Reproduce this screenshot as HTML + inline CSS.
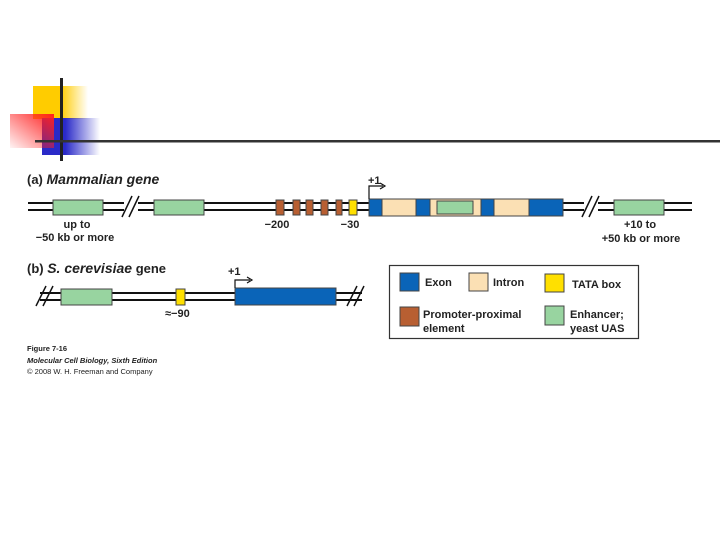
<!DOCTYPE html>
<html><head><meta charset="utf-8"><style>body{margin:0;background:#fff}svg{display:block}text{font-family:"Liberation Sans",sans-serif;font-weight:bold;fill:#222}</style></head><body>
<svg width="720" height="540" viewBox="0 0 720 540" xmlns="http://www.w3.org/2000/svg">
<defs>
<linearGradient id="gy"><stop offset="0.5" stop-color="#ffcc00"/><stop offset="1" stop-color="#ffcc00" stop-opacity="0"/></linearGradient>
<linearGradient id="gb"><stop offset="0.4" stop-color="#2a2ac8"/><stop offset="1" stop-color="#2a2ac8" stop-opacity="0"/></linearGradient>
<linearGradient id="gr" x1="1" y1="0" x2="0" y2="1"><stop offset="0" stop-color="#ff2020"/><stop offset="1" stop-color="#ff2020" stop-opacity="0.05"/></linearGradient>
</defs>
<rect x="33" y="86" width="55" height="33" fill="url(#gy)"/>
<rect x="42" y="118" width="58" height="37" fill="url(#gb)"/>
<rect x="10" y="114" width="44" height="34" fill="url(#gr)"/>
<rect x="60" y="78" width="3" height="83" fill="#222"/>
<rect x="35" y="140" width="685" height="2.5" fill="#333"/>

<text x="27" y="184" font-size="13">(a) <tspan font-size="14" font-style="italic">Mammalian gene</tspan></text>
<g stroke="#111" stroke-width="2"><line x1="28" y1="203" x2="692" y2="203"/><line x1="28" y1="210" x2="692" y2="210"/></g>
<rect x="124" y="198" width="14" height="18" fill="#fff"/><rect x="584" y="198" width="14" height="18" fill="#fff"/>
<g stroke="#111" stroke-width="1.5"><line x1="122" y1="217" x2="132" y2="196"/><line x1="129" y1="217" x2="139" y2="196"/><line x1="582" y1="217" x2="592" y2="196"/><line x1="589" y1="217" x2="599" y2="196"/></g>
<g stroke="#444" stroke-width="1">
<rect x="53" y="200" width="50" height="15" fill="#98d4a0"/>
<rect x="154" y="200" width="50" height="15" fill="#98d4a0"/>
<rect x="614" y="200" width="50" height="15" fill="#98d4a0"/>
<g fill="#b85f32"><rect x="276" y="200" width="8" height="15"/><rect x="293" y="200" width="7" height="15"/><rect x="306" y="200" width="7" height="15"/><rect x="321" y="200" width="7" height="15"/><rect x="336" y="200" width="6" height="15"/></g>
<rect x="349" y="200" width="8" height="15" fill="#ffe000"/>
<rect x="369" y="199" width="194" height="17" fill="#fbe0b4"/>
<g fill="#0a64b8"><rect x="369" y="199" width="13" height="17"/><rect x="416" y="199" width="14" height="17"/><rect x="481" y="199" width="13" height="17"/><rect x="529" y="199" width="34" height="17"/></g>
<rect x="437" y="201" width="36" height="13" fill="#98d4a0"/>
</g>
<path d="M369 199 V186 H383" stroke="#111" stroke-width="1.2" fill="none"/><path d="M380 183 L385 186 L380 189" stroke="#111" stroke-width="1.2" fill="none"/>
<g font-size="11">
<text x="368" y="184">+1</text>
<text x="77" y="228" text-anchor="middle">up to</text>
<text x="75" y="241" text-anchor="middle">−50 kb or more</text>
<text x="277" y="228" text-anchor="middle">−200</text>
<text x="350" y="228" text-anchor="middle">−30</text>
<text x="640" y="228" text-anchor="middle">+10 to</text>
<text x="641" y="242" text-anchor="middle">+50 kb or more</text>
</g>

<text x="27" y="273" font-size="13">(b) <tspan font-size="14" font-style="italic">S. cerevisiae</tspan> gene</text>
<g stroke="#111" stroke-width="2"><line x1="40" y1="293" x2="362" y2="293"/><line x1="40" y1="300" x2="362" y2="300"/></g>
<g stroke="#111" stroke-width="1.5"><line x1="36" y1="306" x2="46" y2="286"/><line x1="43" y1="306" x2="53" y2="286"/><line x1="347" y1="306" x2="357" y2="286"/><line x1="354" y1="306" x2="364" y2="286"/></g>
<g stroke="#444" stroke-width="1">
<rect x="61" y="289" width="51" height="16" fill="#98d4a0"/>
<rect x="176" y="289" width="9" height="16" fill="#ffe000"/>
<rect x="235" y="288" width="101" height="17" fill="#0a64b8"/>
</g>
<path d="M235 288 V280 H250" stroke="#111" stroke-width="1.2" fill="none"/><path d="M247 277 L252 280 L247 283" stroke="#111" stroke-width="1.2" fill="none"/>
<text x="228" y="275" font-size="11">+1</text>
<text x="165" y="317" font-size="11">≈−90</text>

<rect x="389.5" y="265.5" width="249" height="73" fill="#fff" stroke="#333" stroke-width="1.2"/>
<g stroke="#444" stroke-width="1">
<rect x="400" y="273" width="19" height="18" fill="#0a64b8"/>
<rect x="469" y="273" width="19" height="18" fill="#fbe0b4"/>
<rect x="545" y="274" width="19" height="18" fill="#ffe000"/>
<rect x="400" y="307" width="19" height="19" fill="#b85f32"/>
<rect x="545" y="306" width="19" height="19" fill="#98d4a0"/>
</g>
<g font-size="11">
<text x="425" y="286">Exon</text>
<text x="493" y="286">Intron</text>
<text x="572" y="288">TATA box</text>
<text x="423" y="318">Promoter-proximal</text>
<text x="423" y="332">element</text>
<text x="570" y="318">Enhancer;</text>
<text x="570" y="332">yeast UAS</text>
</g>

<text x="27" y="351" font-size="7.5">Figure 7-16</text>
<text x="27" y="363" font-size="7.5" font-style="italic">Molecular Cell Biology, Sixth Edition</text>
<text x="27" y="374" font-size="7.5" style="font-weight:normal">© 2008 W. H. Freeman and Company</text>
</svg>
</body></html>
